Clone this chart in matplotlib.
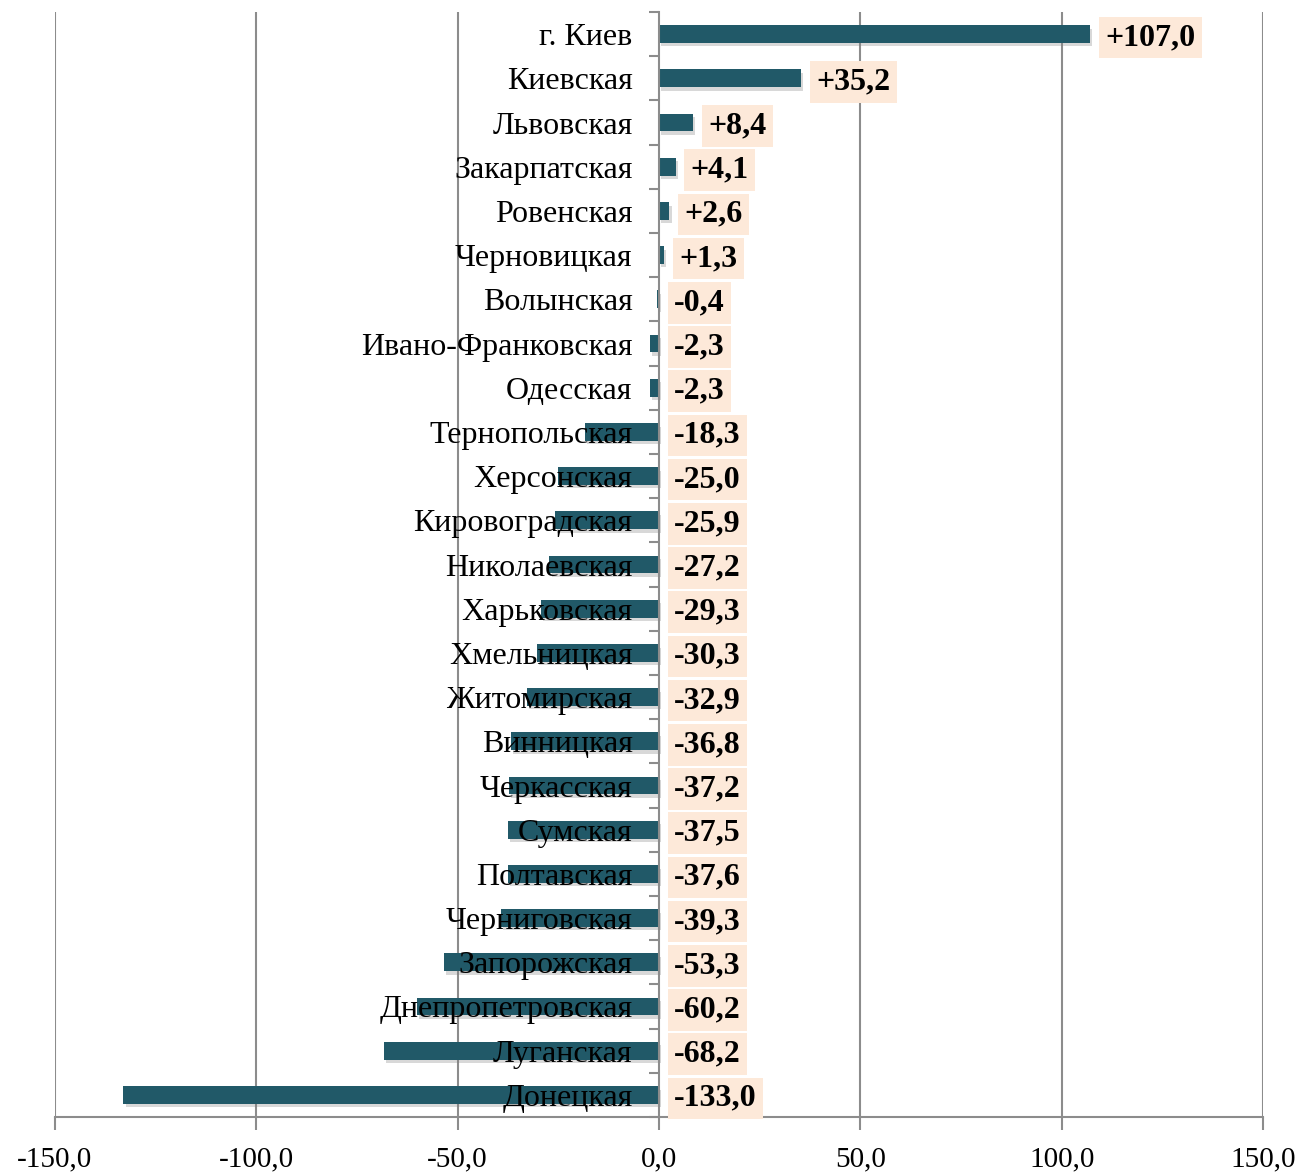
import numpy as np
import matplotlib.pyplot as plt
import matplotlib.patheffects as pe
from matplotlib.ticker import FixedLocator, FuncFormatter

plt.rcParams['font.family'] = ['Liberation Serif', 'DejaVu Serif']

# regions, top to bottom
regions = ['г. Киев', 'Киевская', 'Львовская', 'Закарпатская', 'Ровенская',
           'Черновицкая', 'Волынская', 'Ивано-Франковская', 'Одесская',
           'Тернопольская', 'Херсонская', 'Кировоградская', 'Николаевская',
           'Харьковская', 'Хмельницкая', 'Житомирская', 'Винницкая',
           'Черкасская', 'Сумская', 'Полтавская', 'Черниговская',
           'Запорожская', 'Днепропетровская', 'Луганская', 'Донецкая']
values = [107.0, 35.2, 8.4, 4.1, 2.6, 1.3, -0.4, -2.3, -2.3, -18.3, -25.0,
          -25.9, -27.2, -29.3, -30.3, -32.9, -36.8, -37.2, -37.5, -37.6,
          -39.3, -53.3, -60.2, -68.2, -133.0]

bar_color = '#215968'
box_color = '#FDE9D9'
grid_color = '#8c8c8c'

fig = plt.figure(figsize=(13.03, 11.72), dpi=100)
ax = fig.add_axes([55/1303, 55/1172, 1208/1303, 1105/1172])

# vertical gridlines behind the bars
for gx in np.arange(-150, 151, 50):
    if gx != 0:
        ax.axvline(gx, color=grid_color, linewidth=1.5, zorder=0)

y = np.arange(len(regions))
bars = ax.barh(y, values, height=0.4, color=bar_color, zorder=1)
for b in bars:
    b.set_path_effects([pe.SimplePatchShadow(offset=(1.5, -2.5), shadow_rgbFace='#808080', alpha=0.3),
                        pe.Normal()])

# value labels in peach boxes
for yi, v in zip(y, values):
    s = ('+' if v > 0 else '') + ('%.1f' % v).replace('.', ',')
    ax.annotate(s, xy=(max(v, 0), yi), xytext=(11, 0), textcoords='offset points',
                ha='left', va='center_baseline', fontsize=23, fontweight='bold',
                bbox=dict(boxstyle='square,pad=0.2', fc=box_color, ec='none'),
                zorder=5)

ax.set_xlim(-150, 150)
ax.set_ylim(len(regions) - 0.5, -0.5)
ax.set_axisbelow(False)

ax.set_xticks(np.arange(-150, 151, 50))
ax.xaxis.set_major_formatter(FuncFormatter(lambda x, p: ('%.1f' % x).replace('.', ',')))
ax.tick_params(axis='x', direction='out', length=9, width=1.5, color=grid_color,
               labelsize=21, pad=12)

ax.set_yticks(y)
ax.set_yticklabels(regions)
ax.yaxis.set_minor_locator(FixedLocator(np.arange(-0.5, len(regions), 1)))
ax.tick_params(axis='y', which='major', length=0, labelsize=23, pad=19)
ax.tick_params(axis='y', which='minor', direction='out', length=7, width=1.5,
               color=grid_color)

ax.spines['left'].set_position(('data', 0))
ax.spines['left'].set_color(grid_color)
ax.spines['left'].set_linewidth(1.5)
ax.spines['bottom'].set_color(grid_color)
ax.spines['bottom'].set_linewidth(1.5)
ax.spines['top'].set_visible(False)
ax.spines['right'].set_visible(False)

fig.savefig('out.png', dpi=100)
